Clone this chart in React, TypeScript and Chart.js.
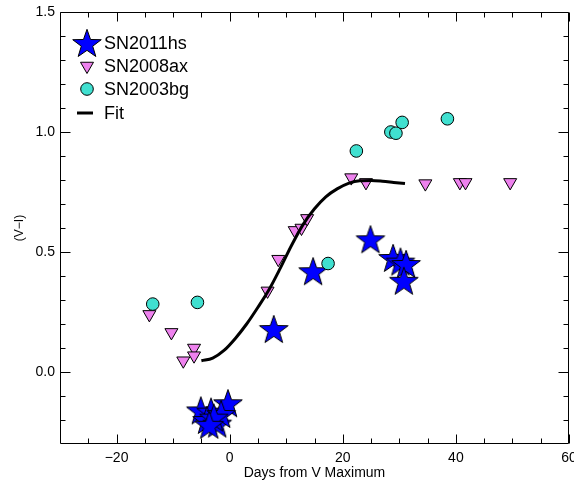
import React, { useEffect, useRef } from "react";
import { Chart, registerables } from "chart.js";

Chart.register(...registerables);

const FONT = "'Liberation Sans', Arial, Helvetica, sans-serif";

// SN2011hs (stars)
const sn2011hsDays = [-5.1, -3.3, -0.3, -4.0, -2.2, -1.5, -2.8, -3.6, 7.8, 14.75, 24.9, 28.9, 30.2, 31.2, 30.8];
const sn2011hsVI = [-0.16, -0.165, -0.13, -0.2, -0.215, -0.175, -0.19, -0.22, 0.179, 0.42, 0.553, 0.475, 0.46, 0.45, 0.38];

// SN2008ax (down triangles)
const sn2008axDays = [-14.2, -10.3, -8.2, -6.3, -6.3, 6.7, 8.6, 11.5, 12.7, 13.7, 21.5, 24.1, 34.6, 40.7, 41.7, 49.6];
const sn2008axVI = [0.24, 0.165, 0.047, 0.1, 0.068, 0.338, 0.47, 0.59, 0.6, 0.64, 0.81, 0.79, 0.785, 0.79, 0.79, 0.79];

// SN2003bg (circles)
const sn2003bgDays = [-13.6, -5.7, 17.4, 22.4, 28.5, 29.4, 30.5, 38.5];
const sn2003bgVI = [0.283, 0.29, 0.452, 0.921, 1.0, 0.995, 1.04, 1.055];

// Fit curve
const fitDays = [-5, -3, -1, 1, 3, 5, 7, 9, 11, 13, 15, 17, 19, 21, 23, 25, 27, 29, 31];
const fitVI = [0.047, 0.058, 0.09, 0.14, 0.2, 0.27, 0.345, 0.435, 0.53, 0.615, 0.68, 0.73, 0.763, 0.786, 0.797, 0.798, 0.795, 0.79, 0.785];

// Axis ticks
const xTickValues = [-20, 0, 20, 40, 60];
const yTickValues = [0.0, 0.5, 1.0, 1.5];
const xMinorStep = 5;
const yMinorStep = 0.1;

const labels = ["SN2011hs", "SN2008ax", "SN2003bg", "Fit"];

function makeStar(R: number, fill: string): HTMLCanvasElement {
  const s = Math.ceil(2 * R + 4);
  const c = document.createElement("canvas");
  c.width = s;
  c.height = s;
  const ctx = c.getContext("2d")!;
  const cx = s / 2;
  const cy = s / 2 + R * 0.09;
  const r = R * 0.4;
  ctx.beginPath();
  for (let i = 0; i < 10; i++) {
    const rad = i % 2 === 0 ? R : r;
    const a = -Math.PI / 2 + (i * Math.PI) / 5;
    const px = cx + rad * Math.cos(a);
    const py = cy + rad * Math.sin(a);
    if (i === 0) ctx.moveTo(px, py);
    else ctx.lineTo(px, py);
  }
  ctx.closePath();
  ctx.fillStyle = fill;
  ctx.fill();
  ctx.lineWidth = 1;
  ctx.strokeStyle = "#000";
  ctx.stroke();
  return c;
}

const toPts = (xs: number[], ys: number[]) => xs.map((x, i) => ({ x, y: ys[i] }));

const framePlugin = {
  id: "frame",
  afterDraw(chart: any) {
    const { ctx, chartArea: a, scales } = chart;
    const xs = scales.x;
    const ys = scales.y;
    const L = Math.round(a.left) + 0.5;
    const R = Math.round(a.right) - 0.5;
    const T = Math.round(a.top) + 0.5;
    const B = Math.round(a.bottom) - 0.5;
    ctx.save();
    ctx.strokeStyle = "#000";
    ctx.lineWidth = 1;
    ctx.beginPath();
    ctx.moveTo(L, T);
    ctx.lineTo(R, T);
    ctx.lineTo(R, B);
    ctx.lineTo(L, B);
    ctx.closePath();
    ctx.stroke();
    // x ticks (inward, top and bottom)
    ctx.beginPath();
    for (let v = xs.min + xMinorStep; v < xs.max + 1e-9; v += xMinorStep) {
      const major = xTickValues.some((t) => Math.abs(t - v) < 1e-6);
      const len = major ? 9 : 5;
      const px = Math.round(xs.getPixelForValue(v)) + 0.5;
      ctx.moveTo(px, B);
      ctx.lineTo(px, B - len);
      ctx.moveTo(px, T);
      ctx.lineTo(px, T + len);
    }
    // y ticks (inward, left and right)
    for (let k = 1; ; k++) {
      const v = ys.min + k * yMinorStep;
      if (v > ys.max + 1e-9) break;
      const major = yTickValues.some((t) => Math.abs(t - v) < 1e-6);
      const len = major ? 10 : 5;
      const py = Math.round(ys.getPixelForValue(v)) + 0.5;
      ctx.moveTo(L, py);
      ctx.lineTo(L + len, py);
      ctx.moveTo(R, py);
      ctx.lineTo(R - len, py);
    }
    ctx.stroke();

    // legend inside chart area (top-left)
    const ds = chart.data.datasets;
    const mx = a.left + 27;
    const tx = a.left + 44;
    const rows = [a.top + 31, a.top + 54, a.top + 77, a.top + 101];
    ctx.font = `18px ${FONT}`;
    ctx.fillStyle = "#000";
    ctx.textBaseline = "middle";
    ctx.textAlign = "left";
    ds.forEach((d: any, i: number) => {
      const y = rows[i];
      if (d.showLine) {
        ctx.beginPath();
        ctx.lineWidth = 3;
        ctx.strokeStyle = d.borderColor;
        ctx.moveTo(mx - 10, y);
        ctx.lineTo(mx + 6, y);
        ctx.stroke();
      } else if (d.pointStyle instanceof HTMLCanvasElement) {
        const img = d.pointStyle;
        ctx.drawImage(img, mx - img.width / 2, y - img.height / 2);
      } else if (d.pointStyle === "triangle") {
        const r = d.pointRadius;
        ctx.beginPath();
        ctx.moveTo(mx, y + r);
        ctx.lineTo(mx - r * Math.sin(Math.PI / 3), y - r / 2);
        ctx.lineTo(mx + r * Math.sin(Math.PI / 3), y - r / 2);
        ctx.closePath();
        ctx.fillStyle = d.backgroundColor;
        ctx.fill();
        ctx.lineWidth = 1;
        ctx.strokeStyle = "#000";
        ctx.stroke();
      } else {
        ctx.beginPath();
        ctx.arc(mx, y, d.pointRadius, 0, Math.PI * 2);
        ctx.fillStyle = d.backgroundColor;
        ctx.fill();
        ctx.lineWidth = 1;
        ctx.strokeStyle = "#000";
        ctx.stroke();
      }
      ctx.fillStyle = "#000";
      ctx.fillText(labels[i], tx, y + 1);
    });
    ctx.restore();
  },
};

export default function App() {
  const ref = useRef<HTMLCanvasElement>(null);
  useEffect(() => {
    document.body.style.margin = "0";
    const star = makeStar(15, "#0000FF");
    const chart = new Chart(ref.current!, {
      type: "scatter",
      data: {
        datasets: [
          {
            label: labels[0],
            data: toPts(sn2011hsDays, sn2011hsVI),
            pointStyle: star as any,
            pointRadius: 15,
            order: 3,
          },
          {
            label: labels[1],
            data: toPts(sn2008axDays, sn2008axVI),
            pointStyle: "triangle",
            rotation: 180,
            pointRadius: 7.5,
            backgroundColor: "#EE82EE",
            borderColor: "#000",
            borderWidth: 1,
            order: 2,
          },
          {
            label: labels[2],
            data: toPts(sn2003bgDays, sn2003bgVI),
            pointStyle: "circle",
            pointRadius: 6.3,
            backgroundColor: "#40E0D0",
            borderColor: "#000",
            borderWidth: 1,
            order: 1,
          },
          {
            label: labels[3],
            data: toPts(fitDays, fitVI),
            showLine: true,
            pointRadius: 0,
            borderColor: "#000",
            borderWidth: 3,
            cubicInterpolationMode: "monotone",
            order: 0,
          } as any,
        ],
      },
      options: {
        responsive: false,
        devicePixelRatio: 1,
        animation: false,
        layout: { autoPadding: false, padding: { top: 12, right: 5, left: 0, bottom: 0 } },
        plugins: { legend: { display: false }, tooltip: { enabled: false } },
        scales: {
          x: {
            type: "linear",
            min: -30,
            max: 60,
            grid: { display: false, drawTicks: false },
            border: { display: false },
            ticks: {
              padding: 6,
              color: "#000",
              font: { family: FONT, size: 14 },
              maxRotation: 0,
              includeBounds: false,
              callback: (v: any) => String(v).replace("-", "\u2212"),
            },
            afterBuildTicks: (s: any) => {
              s.ticks = xTickValues.map((v) => ({ value: v }));
            },
            afterFit: (s: any) => {
              s.height = 39;
              s.paddingLeft = 0;
              s.paddingRight = 0;
            },
            title: {
              display: true,
              text: "Days from V Maximum",
              color: "#000",
              font: { family: FONT, size: 14 },
              padding: { top: 0, bottom: 1 },
            },
          },
          y: {
            type: "linear",
            min: -0.3,
            max: 1.5,
            grid: { display: false, drawTicks: false },
            border: { display: false },
            ticks: {
              padding: 5,
              color: "#000",
              font: { family: FONT, size: 14 },
              includeBounds: false,
              callback: (v: any) => Number(v).toFixed(1),
            },
            afterBuildTicks: (s: any) => {
              s.ticks = yTickValues.map((v) => ({ value: v }));
            },
            afterFit: (s: any) => {
              s.width = 60;
              s.paddingTop = 0;
              s.paddingBottom = 0;
            },
            title: {
              display: true,
              text: "(V\u2212I)",
              color: "#000",
              font: { family: FONT, size: 12 },
              padding: { top: 12, bottom: 0 },
            },
          },
        },
      },
      plugins: [framePlugin],
    });
    return () => chart.destroy();
  }, []);
  return (
    <canvas
      ref={ref}
      width={574}
      height={483}
      style={{ display: "block", width: 574, height: 483 }}
    />
  );
}
